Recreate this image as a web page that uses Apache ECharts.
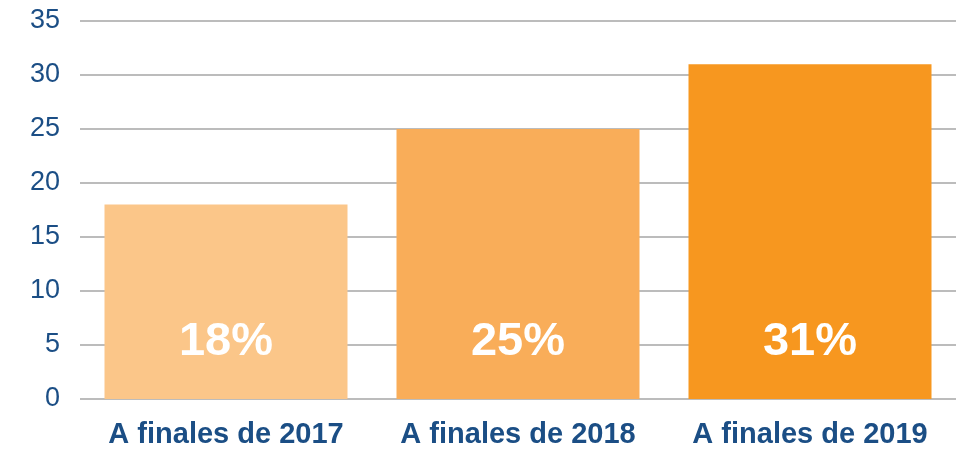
<!DOCTYPE html>
<html>
<head>
<meta charset="utf-8">
<script src="https://cdn.jsdelivr.net/npm/echarts@6/dist/echarts.min.js"></script>
<style>
  html, body { margin: 0; padding: 0; background: #fff; }
  #chart { width: 966px; height: 452px; }
</style>
</head>
<body>
<div id="chart"></div>
<script>
const categories = ["A finales de 2017", "A finales de 2018", "A finales de 2019"];
const values = [18, 25, 31];
const labels = ["18%", "25%", "31%"];
const barColors = ["#FBC689", "#F9AD59", "#F7971F"];

const chart = echarts.init(document.getElementById("chart"));

chart.setOption({
  animation: false,
  grid: { left: 80, right: 10, top: 21, bottom: 53 },
  xAxis: {
    type: "category",
    data: categories,
    axisLine: { show: false },
    axisTick: { show: false },
    axisLabel: {
      interval: 0,
      color: "#1B4E85",
      fontFamily: "Liberation Sans, Arial, sans-serif",
      fontWeight: "bold",
      fontSize: 29,
      margin: 21
    }
  },
  yAxis: {
    type: "value",
    min: 0,
    max: 35,
    interval: 5,
    axisLine: { show: false },
    axisTick: { show: false },
    splitLine: { lineStyle: { color: "#A6A6A6", width: 1.5 } },
    axisLabel: {
      color: "#1B4E85",
      fontFamily: "Liberation Sans, Arial, sans-serif",
      fontSize: 27,
      margin: 20
    }
  },
  series: [
    {
      type: "bar",
      barWidth: 243,
      data: values.map((v, i) => ({
        value: v,
        itemStyle: { color: barColors[i] },
        label: { formatter: labels[i] }
      })),
      label: {
        show: true,
        position: "insideBottom",
        distance: 33,
        color: "#fff",
        fontFamily: "Liberation Sans, Arial, sans-serif",
        fontWeight: "bold",
        fontSize: 47
      }
    }
  ]
});
</script>
</body>
</html>
